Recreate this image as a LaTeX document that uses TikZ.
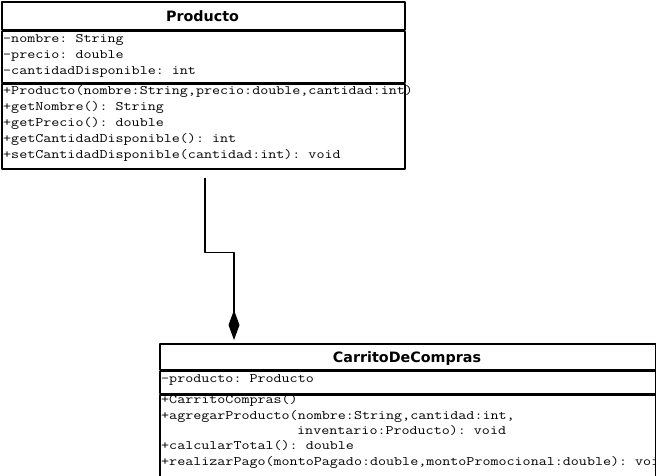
\documentclass[tikz,border=0pt]{standalone}
\usepackage{fontspec}
\setmainfont{DejaVu Sans}
\setmonofont{Latin Modern Mono}[FakeStretch=1.2]
\usetikzlibrary{arrows.meta}

\tikzset{
  umlbox/.style={draw, line width=1.5pt, rectangle, inner sep=0pt, anchor=north west},
  umltitle/.style={font=\bfseries\fontsize{14.3}{16}\selectfont, anchor=base, inner sep=0pt},
  umlline/.style={font=\ttfamily\fontsize{13}{16}\selectfont, anchor=base west, inner sep=0pt},
}

\begin{document}
\begin{tikzpicture}[x=1pt, y=-1pt, line join=round]
\useasboundingbox (0,0) rectangle (656,475);

% class Producto
\node[umlbox, minimum width=403pt, minimum height=28pt] (prod) at (1,1) {};
\node[umlbox, minimum width=403pt, minimum height=51pt] (prodattr) at (prod.south west) {};
\node[umlbox, minimum width=403pt, minimum height=85pt] (prodops) at (prodattr.south west) {};
\node[umltitle] (prodname) at (202.5,21) {Producto};
\foreach \t [count=\i] in {{-nombre: String},{-precio: double},{-cantidadDisponible: int}}
  \node[umlline] (pa\i) at (3,26+16*\i) {\t};
\foreach \t [count=\i] in {{+Producto(nombre:String,precio:double,cantidad:int)},
    {+getNombre(): String},{+getPrecio(): double},
    {+getCantidadDisponible(): int},{+setCantidadDisponible(cantidad:int): void}}
  \node[umlline] (po\i) at (3,78.5+16*\i) {\t};

% class CarritoDeCompras
\node[umlbox, minimum width=496pt, minimum height=26pt] (cart) at (159,343) {};
\node[umlbox, minimum width=496pt, minimum height=22pt] (cartattr) at (cart.south west) {};
\node[umlbox, minimum width=496pt, minimum height=83pt] (cartops) at (cartattr.south west) {};
\node[umltitle] (cartname) at (407,362) {CarritoDeCompras};
\node[umlline] (ca1) at (161,382) {-producto: Producto};
\begin{scope}
\clip (cartops.north west) rectangle (cartops.south east);
\foreach \t [count=\i] in {{+CarritoCompras()},
    {+agregarProducto(nombre:String,cantidad:int,},
    {\hspace*{136pt}inventario:Producto): void},
    {+calcularTotal(): double},
    {+realizarPago(montoPagado:double,montoPromocional:double): void}}
  \node[umlline] (co\i) at (161,388.5+15.3*\i) {\t};
\end{scope}

% composition
\coordinate (compstart) at ([xshift=204pt, yshift=-8pt]prodops.south west);
\coordinate (compend) at ([xshift=75pt, yshift=3pt]cart.north west);
\draw[line width=1.5pt, -{Diamond[length=30pt, width=11pt]}] (compstart) -- ++(0,75) -| (compend);
\end{tikzpicture}
\end{document}
